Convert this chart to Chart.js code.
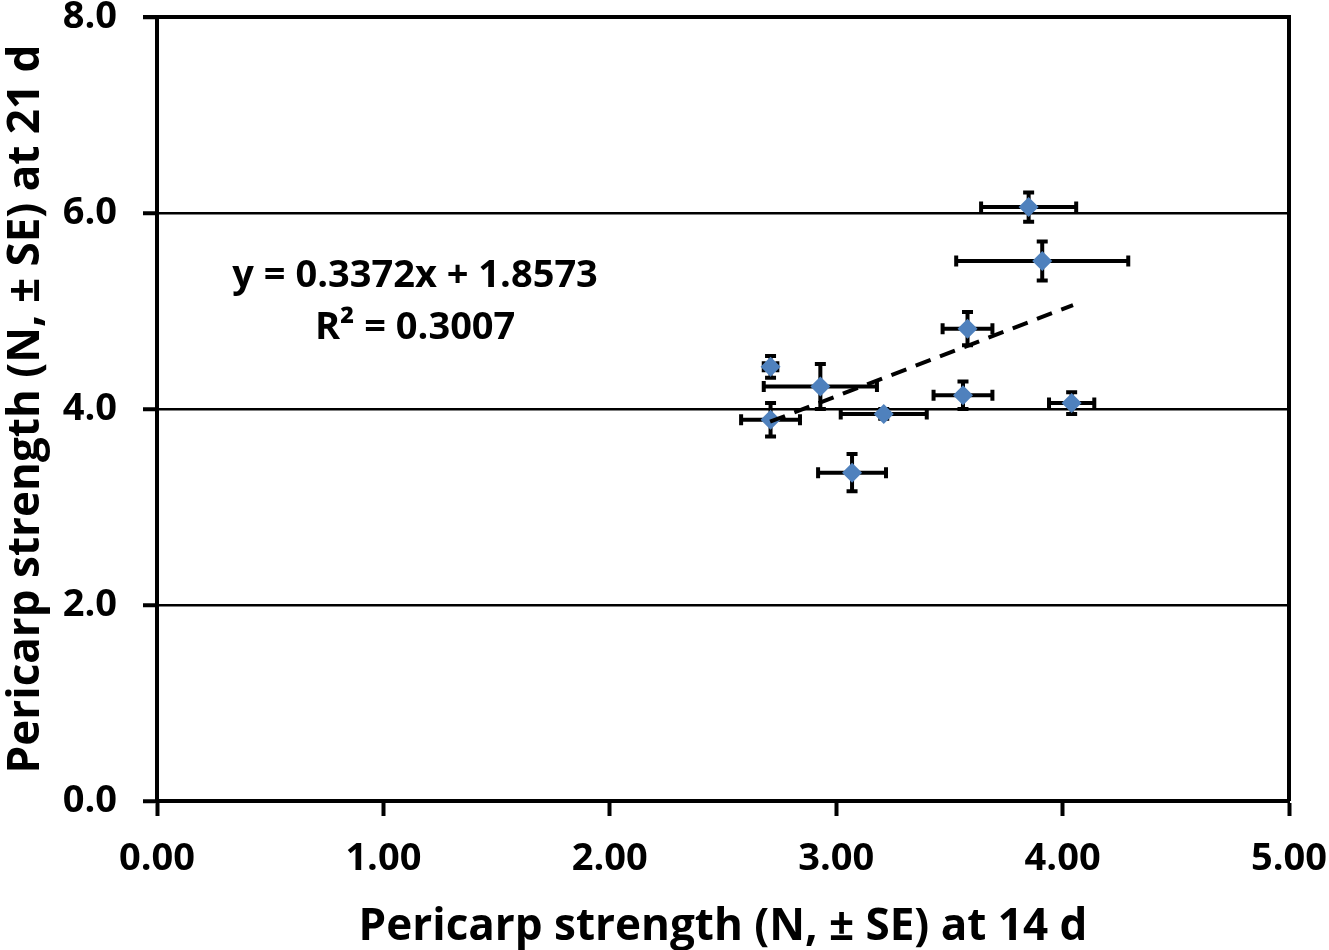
<!DOCTYPE html>
<html>
<head>
<meta charset="utf-8">
<script src="https://cdn.jsdelivr.net/npm/chart.js@4/dist/chart.umd.min.js"></script>
<style>
  html, body { margin: 0; padding: 0; background: #fff; }
  #wrap { width: 1329px; height: 950px; position: relative; }
</style>
</head>
<body>
<div id="wrap"><canvas id="c" width="1329" height="950"></canvas></div>
<script>
// ---- data ----
const xVals = [2.71, 2.93, 2.71, 3.21, 3.56, 4.04, 3.07, 3.85, 3.91, 3.58];
const yVals = [4.43, 4.23, 3.89, 3.95, 4.14, 4.06, 3.35, 6.06, 5.51, 4.82];
const xErr  = [0.03, 0.25, 0.13, 0.19, 0.13, 0.10, 0.15, 0.21, 0.38, 0.11];
const yErr  = [0.11, 0.23, 0.17, 0.05, 0.14, 0.11, 0.19, 0.15, 0.20, 0.17];
const trendX = [2.708, 4.046];
const trendY = [3.87, 5.06];
const xTicks = [0, 1, 2, 3, 4, 5];
const yTicks = [0, 2, 4, 6, 8];
const xTitle = 'Pericarp strength (N, \u00b1 SE) at 14 d';
const yTitle = 'Pericarp strength (N, \u00b1 SE) at 21 d';
const eqLines = ['y = 0.3372x + 1.8573', 'R\u00b2 = 0.3007'];
const eqPos = [[1.14, 5.36], [1.14, 4.82]];

const FONT = "'Open Sans', 'Noto Sans', sans-serif";

const errorBars = {
  id: 'errorBars',
  beforeDatasetsDraw(chart) {
    const ctx = chart.ctx, xs = chart.scales.x, ys = chart.scales.y;
    ctx.save();
    ctx.strokeStyle = '#000';
    ctx.lineWidth = 4;
    const cap = 5.5;
    for (let i = 0; i < xVals.length; i++) {
      const px = xs.getPixelForValue(xVals[i]);
      const py = ys.getPixelForValue(yVals[i]);
      const x0 = xs.getPixelForValue(xVals[i] - xErr[i]);
      const x1 = xs.getPixelForValue(xVals[i] + xErr[i]);
      const y0 = ys.getPixelForValue(yVals[i] - yErr[i]);
      const y1 = ys.getPixelForValue(yVals[i] + yErr[i]);
      ctx.beginPath();
      ctx.moveTo(x0, py); ctx.lineTo(x1, py);
      ctx.moveTo(x0, py - cap); ctx.lineTo(x0, py + cap);
      ctx.moveTo(x1, py - cap); ctx.lineTo(x1, py + cap);
      ctx.moveTo(px, y0); ctx.lineTo(px, y1);
      ctx.moveTo(px - cap, y0); ctx.lineTo(px + cap, y0);
      ctx.moveTo(px - cap, y1); ctx.lineTo(px + cap, y1);
      ctx.stroke();
    }
    ctx.restore();
  }
};

const frame = {
  id: 'frame',
  afterDraw(chart) {
    const ctx = chart.ctx, a = chart.chartArea, xs = chart.scales.x, ys = chart.scales.y;
    ctx.save();
    ctx.strokeStyle = '#000';
    ctx.lineWidth = 4;
    ctx.beginPath();
    ctx.moveTo(a.left - 14, a.top);
    ctx.lineTo(a.right, a.top);
    ctx.lineTo(a.right, a.bottom);
    ctx.stroke();
    // equation text
    ctx.fillStyle = '#000';
    ctx.font = "bold 38px " + FONT;
    ctx.textAlign = 'center';
    ctx.textBaseline = 'middle';
    eqLines.forEach((t, i) => {
      ctx.fillText(t, xs.getPixelForValue(eqPos[i][0]), ys.getPixelForValue(eqPos[i][1]));
    });
    ctx.restore();
  }
};

new Chart(document.getElementById('c'), {
  type: 'scatter',
  data: {
    datasets: [
      {
        type: 'line',
        data: trendX.map((x, i) => ({ x, y: trendY[i] })),
        borderColor: '#000',
        borderWidth: 4,
        borderDash: [16, 10],
        pointRadius: 0,
        fill: false,
        order: 0
      },
      {
        data: xVals.map((x, i) => ({ x, y: yVals[i] })),
        pointStyle: 'rectRot',
        pointRadius: 10,
        pointHoverRadius: 10,
        backgroundColor: '#4F81BD',
        borderColor: '#4F81BD',
        borderWidth: 0,
        order: 1
      }
    ]
  },
  options: {
    responsive: false,
    animation: false,
    events: [],
    layout: { padding: { left: 0, right: 40, top: 17, bottom: 0 } },
    plugins: { legend: { display: false }, tooltip: { enabled: false } },
    scales: {
      x: {
        type: 'linear', min: 0, max: 5,
        afterBuildTicks(s) { s.ticks = xTicks.map(v => ({ value: v })); },
        afterFit(s) { s.height = 149; s.paddingLeft = 0; s.paddingRight = 0; },
        ticks: {
          callback: v => Number(v).toFixed(2),
          color: '#000',
          font: { family: FONT, weight: 'bold', size: 38 },
          padding: 20,
          maxRotation: 0
        },
        grid: { drawOnChartArea: false, drawTicks: true, tickLength: 15, tickWidth: 4, tickColor: '#000' },
        border: { display: true, color: '#000', width: 4 },
        title: {
          display: true, text: xTitle, color: '#000',
          font: { family: FONT, weight: 'bold', size: 44 },
          padding: { top: 0, bottom: -4 }
        }
      },
      y: {
        type: 'linear', min: 0, max: 8,
        afterBuildTicks(s) { s.ticks = yTicks.map(v => ({ value: v })); },
        afterFit(s) { s.width = 157; s.paddingTop = 0; s.paddingBottom = 0; },
        ticks: {
          callback: v => Number(v).toFixed(1),
          color: '#000',
          font: { family: FONT, weight: 'bold', size: 38 },
          padding: 26
        },
        grid: { color: '#000', lineWidth: 2.5, drawTicks: true, tickLength: 14, tickWidth: 4, tickColor: '#000' },
        border: { display: true, color: '#000', width: 4 },
        title: {
          display: true, text: yTitle, color: '#000',
          font: { family: FONT, weight: 'bold', size: 44 },
          padding: { top: 0, bottom: 0 }
        }
      }
    }
  },
  plugins: [errorBars, frame]
});
</script>
</body>
</html>
